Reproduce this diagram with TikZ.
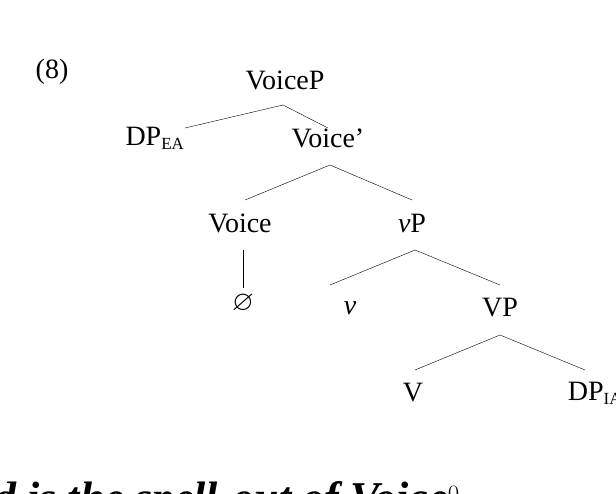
\documentclass[tikz,border=0pt]{standalone}
\usepackage{amssymb}
\usepackage{fontspec}
\setmainfont{Liberation Serif}
\begin{document}
\begin{tikzpicture}[x=1pt, y=-1pt, lbl/.style={font=\fontsize{28}{32}\selectfont, inner sep=1pt}]
  \useasboundingbox (0,0) rectangle (616,493);
  \clip (0,0) rectangle (616,493);
  % Tree nodes
  \node [lbl] (ex) at (52,72) {(8)};
  \node [lbl] (voicep) at (285,80) {VoiceP};
  \node [lbl] (dpea) at (155,138) {DP\textsubscript{\fontsize{17}{17}\selectfont EA}};
  \node [lbl] (voicebar) at (328,138) {Voice’};
  \node [lbl] (voice) at (240,223) {Voice};
  \node [lbl] (vp) at (412,223) {\textit{v}P};
  \node [lbl] (null) at (243,303) {$\varnothing$};
  \node [lbl] (v) at (350,308) {\textit{v}};
  \node [lbl] (bigvp) at (500,308) {VP};
  \node [lbl] (verb) at (413,393) {V};
  \node [lbl] (dpia) at (595,393) {DP\textsubscript{\fontsize{17}{17}\selectfont IA}};
  % Branch ends
  \coordinate (a) at (283,105);  \coordinate (a1) at (185,128);  \coordinate (a2) at (328,128);
  \coordinate (b) at (330,165);  \coordinate (b1) at (245,200);  \coordinate (b2) at (412,200);
  \coordinate (c) at (415,250);  \coordinate (c1) at (330,285);  \coordinate (c2) at (500,285);
  \coordinate (d) at (500,335);  \coordinate (d1) at (415,370);  \coordinate (d2) at (585,370);
  % Branches
  \draw (a) -- (a1);
  \draw (a) -- (a2);
  \draw (b) -- (b1);
  \draw (b) -- (b2);
  \draw (243,250) -- (243,288);
  \draw (c) -- (c1);
  \draw (c) -- (c2);
  \draw (d) -- (d1);
  \draw (d) -- (d2);
  % cut-off running text
  \node [anchor=base west, font=\fontsize{44}{50}\selectfont\bfseries\itshape, inner sep=0pt] (txt) at (-18,512) {ld is the spell-out of Voice$^0$};
\end{tikzpicture}
\end{document}
